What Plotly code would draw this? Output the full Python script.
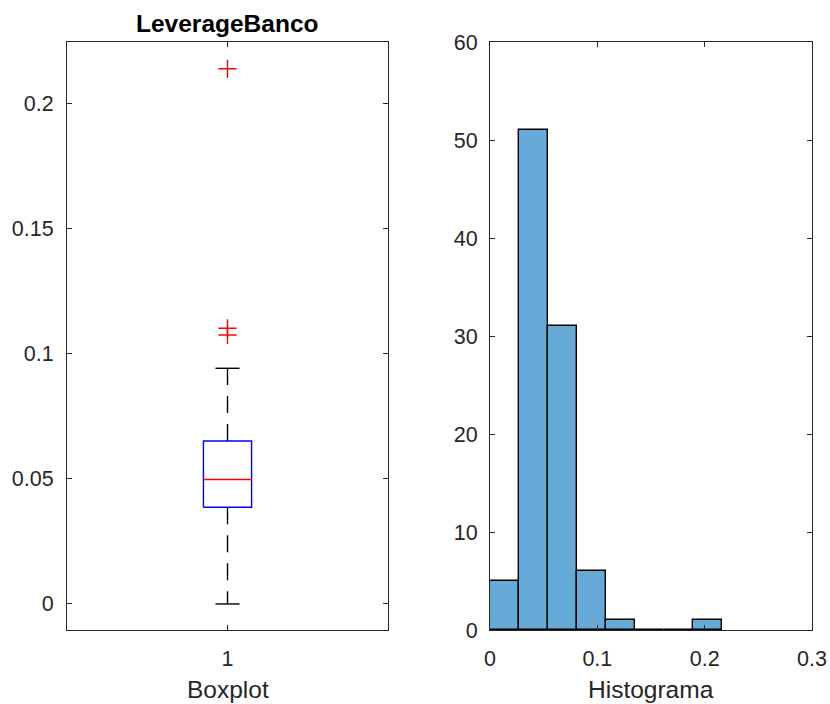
import plotly.graph_objects as go

# ---- data ----
# Boxplot statistics (LeverageBanco)
box_position = 1
q1 = 0.0386
median = 0.0497
q3 = 0.0651
whisker_low = 0.0
whisker_high = 0.0941
outliers = [0.2137, 0.1101, 0.1074]

# Histogram
bin_edges = [0.0, 0.027, 0.054, 0.081, 0.108, 0.135, 0.162, 0.189, 0.216]
counts = [5, 51, 31, 6, 1, 0, 0, 1]

left_yticks = [0, 0.05, 0.1, 0.15, 0.2]
right_xticks = [0, 0.1, 0.2, 0.3]
right_yticks = [0, 10, 20, 30, 40, 50, 60]

# ---- styles ----
FONT = "Liberation Sans, Arial, Helvetica, sans-serif"
AX = "#262626"
box_half = 0.075
cap_half = 0.0375

fig = go.Figure()

# Box
bx = [box_position - box_half, box_position + box_half, box_position + box_half,
      box_position - box_half, box_position - box_half]
by = [q1, q1, q3, q3, q1]
fig.add_trace(go.Scatter(x=bx, y=by, mode="lines", line=dict(color="#0000ff", width=1.4),
                         xaxis="x", yaxis="y", showlegend=False, hoverinfo="skip"))
# Median
fig.add_trace(go.Scatter(x=[box_position - box_half, box_position + box_half], y=[median, median],
                         mode="lines", line=dict(color="#ff0000", width=1.3),
                         xaxis="x", yaxis="y", showlegend=False, hoverinfo="skip"))
# Whiskers (dashed)
fig.add_trace(go.Scatter(x=[box_position, box_position], y=[q3, whisker_high], mode="lines",
                         line=dict(color="black", width=1.4, dash="17px,11px"),
                         xaxis="x", yaxis="y", showlegend=False, hoverinfo="skip"))
fig.add_trace(go.Scatter(x=[box_position, box_position], y=[q1, whisker_low], mode="lines",
                         line=dict(color="black", width=1.4, dash="17px,11px"),
                         xaxis="x", yaxis="y", showlegend=False, hoverinfo="skip"))
# Caps
for w in (whisker_high, whisker_low):
    fig.add_trace(go.Scatter(x=[box_position - cap_half, box_position + cap_half], y=[w, w],
                             mode="lines", line=dict(color="black", width=1.4),
                             xaxis="x", yaxis="y", showlegend=False, hoverinfo="skip"))
# Outliers
fig.add_trace(go.Scatter(x=[box_position] * len(outliers), y=outliers, mode="markers",
                         marker=dict(symbol="cross-thin", size=13, line=dict(color="#ff0000", width=1.4)),
                         xaxis="x", yaxis="y", showlegend=False, hoverinfo="skip"))

# Histogram
centers = [(a + b) / 2 for a, b in zip(bin_edges[:-1], bin_edges[1:])]
widths = [b - a for a, b in zip(bin_edges[:-1], bin_edges[1:])]
fig.add_trace(go.Bar(x=centers, y=counts, width=widths,
                     marker=dict(color="rgb(102,170,215)", line=dict(color="black", width=1.4)),
                     xaxis="x2", yaxis="y2", showlegend=False, hoverinfo="skip"))

W, H = 830, 704


def px_x(p):
    return p / W


def px_y(p):
    return (H - p) / H


ydom = [px_y(630), px_y(42)]
common = dict(showline=True, linecolor=AX, linewidth=1, mirror="ticks", ticks="inside",
              ticklen=5, tickcolor=AX, tickwidth=1, showgrid=False, zeroline=False,
              automargin=False, ticklabeloverflow="allow",
              tickfont=dict(family=FONT, size=21.5, color=AX))

fig.update_layout(
    width=W, height=H, margin=dict(l=0, r=0, t=0, b=0, autoexpand=False),
    plot_bgcolor="white", paper_bgcolor="white",
    xaxis=dict(domain=[px_x(67), px_x(388)], range=[0.5, 1.5], tickvals=[1], ticktext=["1"],
               anchor="y", ticklabelstandoff=9, **common),
    yaxis=dict(domain=ydom, range=[-0.0104, 0.2244], tickvals=left_yticks,
               anchor="x", ticklabelstandoff=8, **common),
    xaxis2=dict(domain=[px_x(490), px_x(812)], range=[0, 0.3], tickvals=right_xticks,
                anchor="y2", ticklabelstandoff=9, **common),
    yaxis2=dict(domain=ydom, range=[0, 60], tickvals=right_yticks,
                anchor="x2", ticklabelstandoff=7, **common),
    bargap=0,
    annotations=[
        dict(text="<b>LeverageBanco</b>", x=px_x((67 + 388) / 2), y=px_y(23), xref="paper",
             yref="paper", showarrow=False, xanchor="center", yanchor="middle",
             font=dict(family=FONT, size=24.5, color="black")),
        dict(text="Boxplot", x=px_x((67 + 388) / 2), y=px_y(689), xref="paper",
             yref="paper", showarrow=False, xanchor="center", yanchor="middle",
             font=dict(family=FONT, size=24.5, color=AX)),
        dict(text="Histograma", x=px_x((490 + 812) / 2), y=px_y(689), xref="paper",
             yref="paper", showarrow=False, xanchor="center", yanchor="middle",
             font=dict(family=FONT, size=24.5, color=AX)),
    ],
)

fig.write_html("out.html")
